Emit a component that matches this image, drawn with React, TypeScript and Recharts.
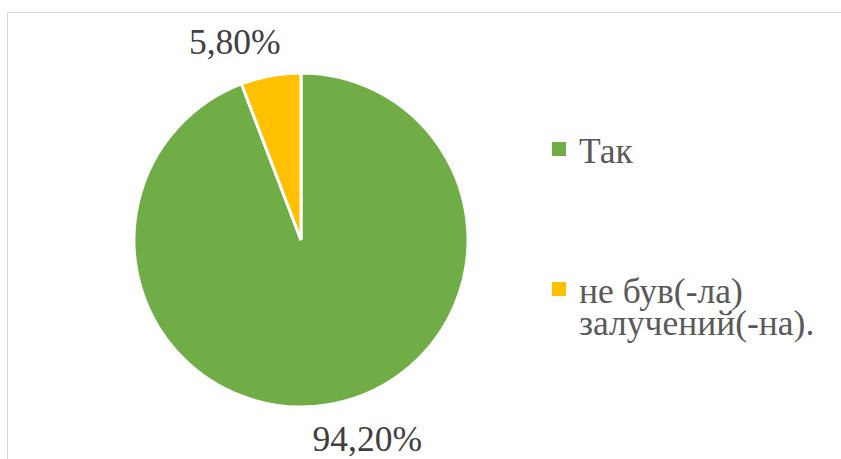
import React from "react";
import { PieChart, Pie, Cell, Legend } from "recharts";

const categories = ["Так", "не був(-ла) залучений(-на)."];
const values = [94.2, 5.8];
const colors = ["#70AD47", "#FFC000"];

const data = categories.map((name, i) => ({ name, value: values[i] }));

const RAD = Math.PI / 180;
const FONT = "Liberation Serif, Tinos, Times New Roman, DejaVu Serif, serif";

const renderLabel = (props: any) => {
  const { cx, cy, midAngle, outerRadius, value } = props;
  const c = Math.cos(-midAngle * RAD);
  const s = Math.sin(-midAngle * RAD);
  const px = cx + outerRadius * c;
  const py = cy + outerRadius * s;
  const x = px + Math.sign(c) * 36;
  const y = py + Math.sign(s) * 35 + (s < 0 ? 1.5 : 0);
  return (
    <text
      x={x}
      y={y}
      textAnchor="middle"
      dominantBaseline="central"
      fill="#404040"
      fontFamily={FONT}
      fontSize={35.5}
    >
      {value.toFixed(2).replace(".", ",") + "%"}
    </text>
  );
};

const itemTops = [134.7, 274.7];

const renderLegend = (props: any) => {
  const payload = props.payload || [];
  return (
    <div style={{ position: "relative", width: 841, height: 459 }}>
      {payload.map((entry: any, i: number) => (
        <div key={i}>
          <div
            style={{
              position: "absolute",
              left: 552,
              top: itemTops[i] + 7.3,
              width: 14,
              height: 14,
              background: entry.color,
            }}
          />
          <div
            style={{
              position: "absolute",
              left: 579,
              top: itemTops[i],
              width: 258,
              fontFamily: FONT,
              fontSize: 35.5,
              lineHeight: "32px",
              color: "#595959",
              whiteSpace: "normal",
            }}
          >
            {entry.value}
          </div>
        </div>
      ))}
    </div>
  );
};

export default function App() {
  return (
    <div
      style={{
        position: "fixed",
        left: 0,
        top: 0,
        width: 841,
        height: 459,
        overflow: "hidden",
        background: "#ffffff",
        fontFamily: FONT,
      }}
    >
      <div
        style={{
          position: "absolute",
          left: 7,
          top: 12,
          width: 900,
          height: 600,
          border: "1.5px solid #d9d9d9",
        }}
      />
      <div style={{ position: "absolute", left: 0, top: 0 }}>
        <PieChart width={841} height={459} margin={{ top: 0, right: 0, bottom: 0, left: 0 }}>
          <Pie
            data={data}
            dataKey="value"
            nameKey="name"
            cx={301}
            cy={240}
            outerRadius={167}
            startAngle={90}
            endAngle={-270}
            stroke="#ffffff"
            strokeWidth={3}
            label={renderLabel}
            labelLine={false}
            isAnimationActive={false}
          >
            {data.map((d, i) => (
              <Cell key={d.name} fill={colors[i]} />
            ))}
          </Pie>
          <Legend
            layout="vertical"
            align="right"
            verticalAlign="top"
            content={renderLegend}
            wrapperStyle={{ position: "absolute", left: 0, top: 0, width: 841, height: 459 }}
          />
        </PieChart>
      </div>
    </div>
  );
}
